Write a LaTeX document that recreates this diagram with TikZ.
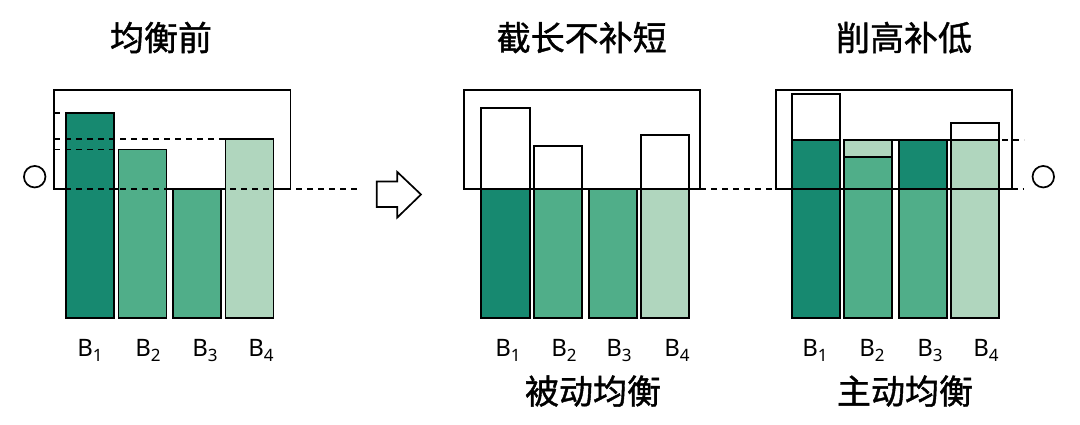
\documentclass[tikz,border=0pt]{standalone}
\usepackage{fontspec}
\setmainfont{Noto Sans}
\newfontfamily\cjk[FakeBold=1.2]{Noto Sans CJK SC}
\definecolor{dg}{RGB}{23,137,112}
\definecolor{mg}{RGB}{80,174,137}
\definecolor{lg}{RGB}{176,214,190}
\newcommand\blab[1]{B\raisebox{-5pt}{\fontsize{17}{17}\selectfont #1}}
\begin{document}
\begin{tikzpicture}[x=1pt,y=-1pt,line width=1.7pt,
  frame/.style={draw=black},
  bx/.style={draw=black},
  dsh/.style={draw=black,line width=1.7pt,dash pattern=on 6pt off 5pt},
  ttl/.style={font=\cjk\fontsize{34}{34}\selectfont,anchor=base,inner sep=0pt},
  blb/.style={font=\fontsize{24}{24}\selectfont,anchor=base,inner sep=0pt},
  ring/.style={draw=black,circle,minimum size=21.5pt,inner sep=0pt,line width=1.7pt}]
\useasboundingbox (0,0) rectangle (1080,425);

% ---------- panel 1 ----------
\draw[frame] (54,90) rectangle (290.5,189);
\filldraw[bx,fill=dg] (66,113) rectangle (114,318);
\filldraw[bx,fill=mg] (118.5,149.5) rectangle (166.5,318);
\filldraw[bx,fill=mg] (173,189) rectangle (221,318);
\filldraw[bx,fill=lg] (225.5,139) rectangle (273.5,318);
\draw[dsh] (54,113) -- (66,113);
\draw[dsh] (54,139) -- (225.5,139);
\draw[dsh] (54,149.5) -- (118.5,149.5);
\draw[dsh] (54,189) -- (357,189);
\node[ring] (c1) at (34.7,176.7) {};

\node[ttl] (t1) at (161,50.5) {均衡前};
\node[blb] (a1) at (90,356.7) {\blab{1}};
\node[blb] (a2) at (148,356.7) {\blab{2}};
\node[blb] (a3) at (205,356.7) {\blab{3}};
\node[blb] (a4) at (261,356.7) {\blab{4}};

% ---------- arrow ----------
\draw[line join=miter] (376.7,181.5) -- (397.3,181.5) -- (397.3,172) -- (421,194.5)
  -- (397.3,217.5) -- (397.3,207) -- (376.7,207) -- cycle;

% ---------- panel 2 ----------
\draw[frame] (463.7,90) rectangle (700.3,189);
\filldraw[bx,fill=white] (481.3,107.7) rectangle (529.7,189);
\filldraw[bx,fill=dg] (481.3,189) rectangle (529.7,318);
\filldraw[bx,fill=white] (534.3,146) rectangle (582.3,189);
\filldraw[bx,fill=mg] (534.3,189) rectangle (582.3,318);
\filldraw[bx,fill=mg] (589,189) rectangle (637,318);
\filldraw[bx,fill=white] (641,135.3) rectangle (689,189);
\filldraw[bx,fill=lg] (641,189) rectangle (689,318);
\draw[dsh] (700.3,189) -- (775.7,189);

\node[ttl] (t2) at (581.7,50.5) {截长不补短};
\node[ttl] (t4) at (593,404) {被动均衡};
\node[blb] (b1) at (508,356.7) {\blab{1}};
\node[blb] (b2) at (564,356.7) {\blab{2}};
\node[blb] (b3) at (619,356.7) {\blab{3}};
\node[blb] (b4) at (677,356.7) {\blab{4}};

% ---------- panel 3 ----------
\draw[frame] (775.7,90) rectangle (1011.7,189);
\filldraw[bx,fill=white] (791.7,94) rectangle (840,140);
\filldraw[bx,fill=dg] (791.7,140) rectangle (840,318);
\filldraw[bx,fill=lg] (844,140) rectangle (892,157.3);
\filldraw[bx,fill=mg] (844,157.3) rectangle (892,318);
\filldraw[bx,fill=dg] (899,140) rectangle (947,189);
\filldraw[bx,fill=mg] (899,189) rectangle (947,318);
\filldraw[bx,fill=white] (950.7,123) rectangle (999.3,140);
\filldraw[bx,fill=lg] (950.7,140) rectangle (999.3,318);
\draw[black] (775.7,189) -- (1011.7,189);
\draw[dsh] (892,140) -- (1024,140);
\draw[dsh] (1011.7,189) -- (1024,189);
\node[ring] (c2) at (1043.3,176.7) {};

\node[ttl] (t3) at (904,50.5) {削高补低};
\node[ttl] (t5) at (905,404) {主动均衡};
\node[blb] (d1) at (815,356.7) {\blab{1}};
\node[blb] (d2) at (872,356.7) {\blab{2}};
\node[blb] (d3) at (930,356.7) {\blab{3}};
\node[blb] (d4) at (986,356.7) {\blab{4}};
\end{tikzpicture}
\end{document}
